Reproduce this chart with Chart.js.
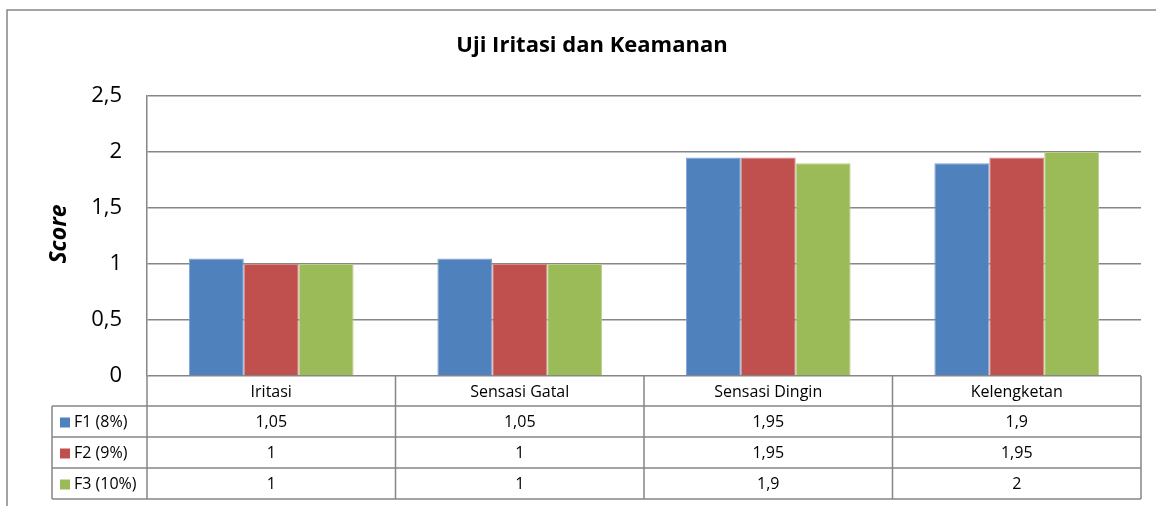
<!DOCTYPE html>
<html>
<head>
<meta charset="utf-8">
<title>Uji Iritasi dan Keamanan</title>
<script src="https://cdn.jsdelivr.net/npm/chart.js@4.4.0/dist/chart.umd.min.js"></script>
<style>
  html, body { margin: 0; padding: 0; background: #fff; }
  #wrap { width: 1156px; height: 506px; }
</style>
</head>
<body>
<div id="wrap"><canvas id="chart" width="1156" height="506"></canvas></div>
<script>
// chart data
const categories = ['Iritasi', 'Sensasi Gatal', 'Sensasi Dingin', 'Kelengketan'];
const seriesNames = ['F1 (8%)', 'F2 (9%)', 'F3 (10%)'];
const f1Values = [1.05, 1.05, 1.95, 1.9];
const f2Values = [1, 1, 1.95, 1.95];
const f3Values = [1, 1, 1.9, 2];
const yTicks = [0, 0.5, 1, 1.5, 2, 2.5];
const chartTitle = 'Uji Iritasi dan Keamanan';
const yTitle = 'Score';

const colors = ['#4F81BD', '#C0504D', '#9BBB59'];
const edgeColors = ['#7fa3d1', '#d58886', '#b9d18b'];
const lineColor = '#868686';
const fontFamily = '"Open Sans", "Noto Sans", sans-serif';

// Excel style decimal comma
function fmt(v) {
    return String(v).replace('.', ',');
}

// draws the frame, title, axis title and the data table under the plot
const tablePlugin = {
    id: 'dataTable',
    afterDraw(chart) {
        const ctx = chart.ctx;
        const area = chart.chartArea;
        const xScale = chart.scales.x;
        const allValues = [f1Values, f2Values, f3Values];
        const colW = (area.right - area.left) / categories.length;
        const rowH = 31;
        const headTop = area.bottom;
        const headBottom = headTop + 30;
        const legendLeft = 52;

        ctx.save();

        // outer frame (only top and left edges show in the window)
        ctx.strokeStyle = lineColor;
        ctx.lineWidth = 1.5;
        ctx.beginPath();
        ctx.moveTo(7, 506);
        ctx.lineTo(7, 10);
        ctx.lineTo(1156, 10);
        ctx.stroke();

        // title
        ctx.fillStyle = '#000';
        ctx.font = 'bold 22px ' + fontFamily;
        ctx.textAlign = 'center';
        ctx.textBaseline = 'middle';
        ctx.fillText(chartTitle, 592, 46);

        // y axis title
        ctx.save();
        ctx.translate(59, 234);
        ctx.rotate(-Math.PI / 2);
        ctx.font = 'italic bold 23px ' + fontFamily;
        ctx.fillText(yTitle, 0, 0);
        ctx.restore();

        // table grid
        ctx.strokeStyle = lineColor;
        ctx.lineWidth = 1.5;
        ctx.beginPath();
        const tableBottom = headBottom + rowH * seriesNames.length;
        for (let i = 0; i <= categories.length; i++) {
            const x = area.left + i * colW;
            ctx.moveTo(x, headTop);
            ctx.lineTo(x, tableBottom);
        }
        ctx.moveTo(legendLeft, headBottom);
        ctx.lineTo(legendLeft, tableBottom);
        for (let r = 0; r <= seriesNames.length; r++) {
            const y = headBottom + r * rowH;
            ctx.moveTo(legendLeft, y);
            ctx.lineTo(area.right, y);
        }
        ctx.stroke();

        // header: category names
        ctx.font = '16px ' + fontFamily;
        ctx.fillStyle = '#000';
        categories.forEach((c, i) => {
            ctx.fillText(c, xScale.getPixelForValue(i), (headTop + headBottom) / 2 + 1);
        });

        // rows: legend key + values
        seriesNames.forEach((name, r) => {
            const cy = headBottom + r * rowH + rowH / 2 + 1;
            ctx.fillStyle = colors[r];
            ctx.fillRect(60, cy - 5, 10, 10);
            ctx.fillStyle = '#000';
            ctx.textAlign = 'left';
            ctx.fillText(name, 74, cy);
            ctx.textAlign = 'center';
            allValues[r].forEach((v, i) => {
                ctx.fillText(fmt(v), xScale.getPixelForValue(i), cy);
            });
        });

        ctx.restore();
    }
};

const chart = new Chart(document.getElementById('chart').getContext('2d'), {
    type: 'bar',
    data: {
        labels: categories,
        datasets: [
            { label: seriesNames[0], data: f1Values, backgroundColor: colors[0], borderColor: edgeColors[0], borderWidth: 1 },
            { label: seriesNames[1], data: f2Values, backgroundColor: colors[1], borderColor: edgeColors[1], borderWidth: 1 },
            { label: seriesNames[2], data: f3Values, backgroundColor: colors[2], borderColor: edgeColors[2], borderWidth: 1 }
        ]
    },
    options: {
        responsive: false,
        animation: false,
        devicePixelRatio: 1,
        layout: { padding: { left: 0, top: 96, right: 15, bottom: 130 } },
        categoryPercentage: 0.663,
        barPercentage: 1,
        plugins: {
            legend: { display: false },
            title: { display: false },
            tooltip: { enabled: false }
        },
        scales: {
            x: { display: false },
            y: {
                min: 0,
                max: 2.5,
                afterFit(scale) { scale.width = 147; },
                afterBuildTicks(scale) {
                    scale.ticks = yTicks.map(v => ({ value: v }));
                },
                border: { display: true, color: lineColor, width: 1.5 },
                grid: { color: lineColor, lineWidth: 1.5, drawTicks: false },
                ticks: {
                    padding: 25,
                    color: '#000',
                    font: { family: fontFamily, size: 22 },
                    callback: v => fmt(v)
                }
            }
        }
    },
    plugins: [tablePlugin]
});
</script>
</body>
</html>
